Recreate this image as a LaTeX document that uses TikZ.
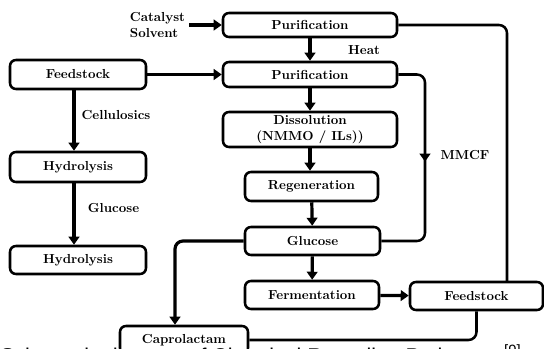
\documentclass[tikz,border=0pt]{standalone}
\usepackage{fontspec}
\newfontfamily\capfont{Liberation Sans}
\usetikzlibrary{arrows.meta,decorations.markings}
\begin{document}
\begin{tikzpicture}[x=0.75pt,y=-0.75pt,
  box/.style={draw, line width=1.9pt, rounded corners=4.5pt, fill=white, inner sep=0pt,
    align=center, font=\fontsize{9.8}{11.5}\bfseries\selectfont},
  lbl/.style={inner sep=1pt, font=\fontsize{9.8}{11.5}\bfseries\selectfont},
  arr/.style={line width=2.4pt, -{Triangle[width=8pt,length=6pt]}},
  ln/.style={line width=1.9pt, rounded corners=6pt}]
\clip (0,0) rectangle (544,349);
\fill[white] (0,0) rectangle (544,349);

% nodes
\node[box, minimum width=130.5pt, minimum height=18pt]   (pur1)  at (310,25)    {Purification};
\node[box, minimum width=130.5pt, minimum height=18.75pt](pur2)  at (310,74.5)  {Purification};
\node[box, minimum width=130.5pt, minimum height=26.25pt](diss)  at (310,129.5) {Dissolution\\(NMMO / ILs))};
\node[box, minimum width=99.75pt, minimum height=21.75pt](regen) at (311.5,186.5) {Regeneration};
\node[box, minimum width=101.25pt, minimum height=21pt]  (gluc)  at (312.5,241) {Glucose};
\node[box, minimum width=100.5pt, minimum height=21pt]   (ferm)  at (312,295)   {Fermentation};
\node[box, minimum width=99.75pt, minimum height=21pt]   (feed2) at (476.5,296) {Feedstock};
\node[box, minimum width=102pt, minimum height=21.75pt]  (feed1) at (78,74.5)   {Feedstock};
\node[box, minimum width=102pt, minimum height=22.5pt]   (hyd1)  at (78,167)    {Hydrolysis};
\node[box, minimum width=102pt, minimum height=21pt]     (hyd2)  at (78,260)    {Hydrolysis};
\node[box, minimum width=96pt, minimum height=21pt]      (capro) at (184,340)   {Caprolactam};

\node[lbl, align=left, inner sep=3pt] (cat) at (157.5,25) {Catalyst\\Solvent};
\node[lbl] (heat)  at (364,50)  {Heat};
\node[lbl] (cell)  at (116,115) {Cellulosics};
\node[lbl] (glul)  at (113.5,208) {Glucose};
\node[lbl] (mmcf)  at (465,155) {MMCF};

% coordinates for bends
\coordinate (r1) at (507,282);
\coordinate (m1) at (425,74.5);
\coordinate (m2) at (425,241);

% connectors
\draw[arr] (cat.east) -- (pur1.west);
\draw[arr] (pur1) -- (pur2);
\draw[arr] (pur2) -- (diss);
\draw[arr] (diss.south) -- (diss.south |- regen.north);
\draw[arr] (regen) -- (gluc);
\draw[arr] (gluc) -- (ferm);
\draw[arr] (ferm) -- (feed2);
\draw[arr] (feed1) -- (pur2);
\draw[arr] ([xshift=-3pt]feed1.south) -- ([xshift=-3pt]hyd1.north);
\draw[arr] ([xshift=-3pt]hyd1.south) -- ([xshift=-3pt]hyd2.north);
\draw[ln] (pur1.east) -| (r1);
\draw[ln, postaction={decorate}, decoration={markings,
  mark=at position 0.48 with {\arrow{Triangle[width=8pt,length=6pt]}}}]
  (pur2.east) -- (m1) -- (m2) -- (gluc.east);
\draw[ln] (feed2.south) |- (capro.east);
\draw[arr, rounded corners=6pt] (gluc.west) -| ([xshift=-6.75pt]capro.north);

% clipped caption
\node[anchor=base west, inner sep=0pt, font=\capfont\fontsize{16}{18}\selectfont] (cap) at (0,364)
  {Schematic diagram of Chemical Recycling Pathways \textsuperscript{[9]}};
\end{tikzpicture}
\end{document}
